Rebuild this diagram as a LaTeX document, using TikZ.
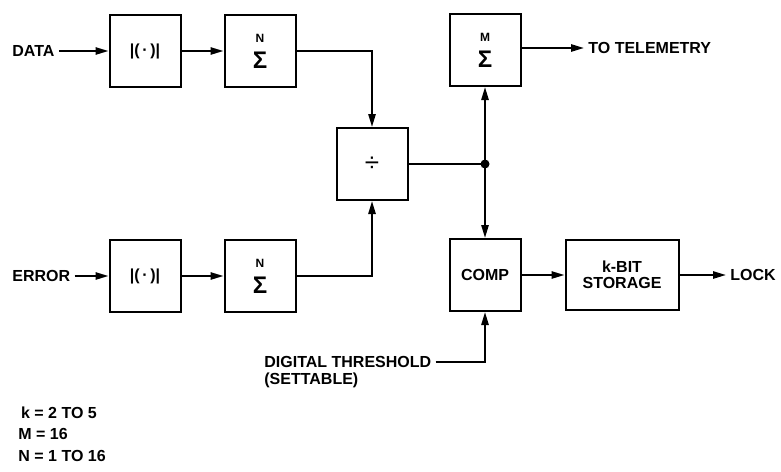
\documentclass[tikz,border=0pt]{standalone}
\usepackage{fontspec}
\setmainfont{Liberation Sans}
\usetikzlibrary{positioning,arrows.meta}

\begin{document}
\begin{tikzpicture}[x=0.5pt, y=-0.5pt,
  caja/.style={draw, line width=1pt, minimum width=35.5pt, minimum height=36pt, inner sep=1pt, align=center, font=\fontsize{8}{9}\selectfont\bfseries},
  texto/.style={font=\fontsize{8}{9}\selectfont\bfseries, inner sep=2pt, align=left},
  flecha/.style={-{Triangle[length=6.5pt,width=3.6pt]}, line width=1pt},
  linea/.style={line width=1pt},
  punto/.style={circle, fill, inner sep=0pt, minimum size=4.5pt}
]
\useasboundingbox (0,0) rectangle (781,471);
\newcommand{\sumade}[1]{{\fontsize{6}{6}\selectfont #1}\\[4pt]{\fontsize{12}{12}\selectfont Σ}}

\node[texto, anchor=west] (data) at (8,51) {DATA};
\node[caja] (absA) at (145,51) {|(\,·\,)|};
\node[caja, right=21pt of absA] (sumA) {\sumade{N}};

\node[texto, anchor=west] (err) at (8,276) {ERROR};
\node[caja] (absB) at (145,276) {|(\,·\,)|};
\node[caja, right=21pt of absB] (sumB) {\sumade{N}};

\node[caja, font=\fontsize{13}{13}\selectfont] (divd) at (372,164) {÷};
\node[caja] (sumM) at (485,50) {\sumade{M}};
\node[texto, anchor=west] (tele) at (584,48) {TO TELEMETRY};

\node[caja] (comp) at (485,275) {COMP};
\node[caja, right=21.5pt of comp, minimum width=56.5pt, minimum height=35pt] (store) {k-BIT\\[-1pt]STORAGE};
\node[texto, anchor=west] (lock) at (726,275) {LOCK};

\node[texto, anchor=west] (thrA) at (260,362) {DIGITAL THRESHOLD};
\node[texto, anchor=north west, inner ysep=0pt] (thrB) at (thrA.south west) {(SETTABLE)};

\node[texto, anchor=west] (notaK) at (14,413) {\,k = 2 TO 5};
\node[texto, anchor=west] (notaM) at (14,434) {M = 16};
\node[texto, anchor=west] (notaN) at (14,456) {N = 1 TO 16};

\coordinate (nudo) at (sumM.south |- divd.east);

\draw[flecha] (data) -- (absA);
\draw[flecha] (absA) -- (sumA);
\draw[flecha] (sumA.east) -| (divd.north);
\draw[flecha] (err) -- (absB);
\draw[flecha] (absB) -- (sumB);
\draw[flecha] (sumB.east) -| (divd.south);
\draw[linea] (divd.east) -- (nudo);
\node[punto] at (nudo) {};
\draw[flecha] (nudo) -- (sumM.south);
\draw[flecha] (nudo) -- (comp.north);
\draw[flecha] (sumM.east |- tele.west) -- (tele.west);
\draw[flecha] (comp) -- (store);
\draw[flecha] (store) -- (lock);
\draw[flecha] (thrA.east) -| (comp.south);
\end{tikzpicture}
\end{document}
